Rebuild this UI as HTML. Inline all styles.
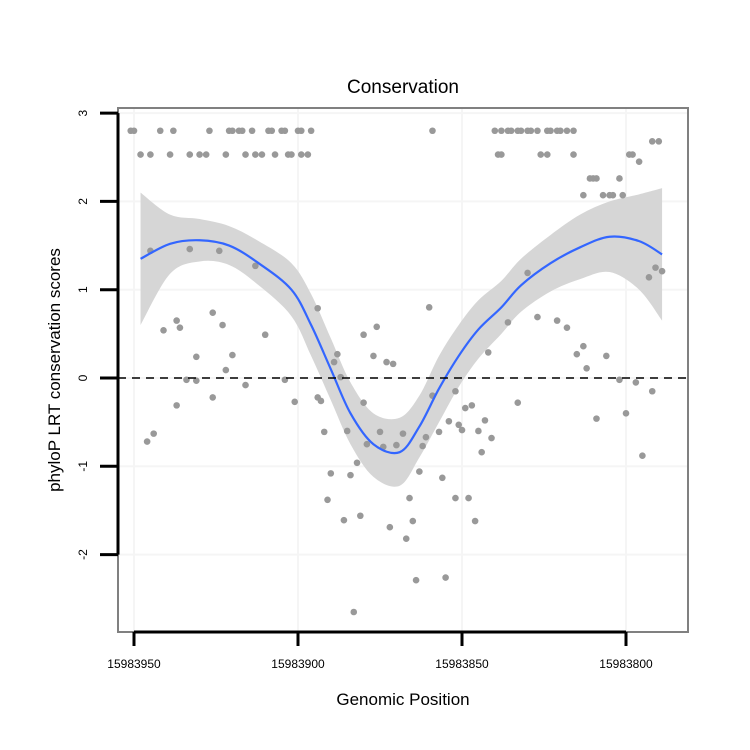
<!DOCTYPE html>
<html><head><meta charset="utf-8"><style>
html,body{margin:0;padding:0;background:#fff;}
svg{display:block;font-family:"Liberation Sans",sans-serif;}
</style></head><body>
<svg id="chart" width="750" height="750">
<text x="403" y="93" font-size="19" text-anchor="middle">Conservation</text>
<g id="grid"></g>
<g id="band"></g>
<g id="pts"></g>
<g id="fit"></g>
<line x1="118" x2="688" y1="378" y2="378" stroke="#000" stroke-width="1.5" stroke-dasharray="8,6"/>
<rect x="118" y="108" width="570" height="524" fill="none" stroke="#808080" stroke-width="2"/>
<g id="axes"></g>
<text x="403" y="705" font-size="17" text-anchor="middle">Genomic Position</text>
<text x="0" y="0" font-size="17" text-anchor="middle" transform="translate(60,370) rotate(-90)">phyloP LRT conservation scores</text>
</svg>
<script>
const xTicks=[15983950,15983900,15983850,15983800];
const xTickLabels=["15983950","15983900","15983850","15983800"];
const yTicks=[3,2,1,0,-1,-2];
const yTickLabels=["3","2","1","0","-1","-2"];
const ptPos=[15983948,15983945,15983939,15983933,15983930,15983928,15983922,15983916,15983913,15983911,15983907,15983903,15983902,15983899,15983897,
15983951,15983950,15983942,15983938,15983927,15983921,15983920,15983918,15983917,15983914,15983909,15983908,15983905,15983904,15983900,15983899,15983896,15983859,15983840,15983838,15983836,15983835,15983833,15983832,15983830,15983829,15983827,15983824,15983823,15983821,15983820,15983818,15983816,
15983839,15983838,15983826,15983824,15983816,
15983813,15983811,15983810,15983809,15983807,15983805,15983804,15983802,15983801,15983799,15983798,15983796,15983792,15983790,
15983946,15983944,15983945,15983941,15983937,15983937,15983936,15983934,15983933,15983931,15983931,15983926,15983926,15983924,15983923,15983922,15983920,15983916,15983913,15983910,15983904,15983901,15983894,15983894,15983893,15983892,15983891,15983890,15983889,15983888,15983887,15983886,15983885,15983884,15983883,15983882,15983881,15983880,15983880,15983879,15983877,15983876,15983875,15983874,15983873,15983872,15983871,15983870,15983868,15983867,15983866,15983865,15983864,15983863,15983862,15983861,15983860,15983859,15983857,15983856,15983855,15983854,15983852,15983852,15983851,15983850,15983849,15983848,15983847,15983846,15983845,15983844,15983843,15983842,15983841,15983836,15983833,15983830,15983827,15983821,15983818,15983815,15983813,15983812,15983809,15983806,15983802,15983800,15983797,15983795,15983793,15983792,15983791,15983789];
const ptScore=[2.53,2.53,2.53,2.53,2.53,2.53,2.53,2.53,2.53,2.53,2.53,2.53,2.53,2.53,2.53,
2.8,2.8,2.8,2.8,2.8,2.8,2.8,2.8,2.8,2.8,2.8,2.8,2.8,2.8,2.8,2.8,2.8,2.8,2.8,2.8,2.8,2.8,2.8,2.8,2.8,2.8,2.8,2.8,2.8,2.8,2.8,2.8,2.8,
2.53,2.53,2.53,2.53,2.53,
2.07,2.26,2.26,2.26,2.07,2.07,2.07,2.26,2.07,2.53,2.53,2.45,2.68,2.68,
-0.72,-0.63,1.44,0.54,-0.31,0.65,0.57,-0.02,1.46,-0.03,0.24,0.74,-0.22,1.44,0.60,0.09,0.26,-0.08,1.27,0.49,-0.02,-0.27,0.79,-0.22,-0.26,-0.61,-1.38,-1.08,0.18,0.27,0.01,-1.61,-0.60,-1.10,-2.65,-0.96,-1.56,-0.28,0.49,-0.75,0.25,0.58,-0.61,-0.78,0.18,-1.69,0.16,-0.76,-0.63,-1.82,-1.36,-1.62,-2.29,-1.06,-0.77,-0.67,0.80,-0.20,-0.61,-1.13,-2.26,-0.49,-1.36,-0.15,-0.53,-0.59,-0.34,-1.36,-0.31,-1.62,-0.60,-0.84,-0.48,0.29,-0.68,0.63,-0.28,1.19,0.69,0.65,0.57,0.27,0.36,0.11,-0.46,0.25,-0.02,-0.40,-0.05,-0.88,1.14,-0.15,1.25,1.21,0.59];
const fitPos=[15983948,15983939,15983930,15983921,15983912,15983902,15983896,15983890,15983884,15983877,15983869,15983863,15983857,15983851,15983845,15983838,15983832,15983823,15983814,15983805,15983796,15983789];
const fitVal=[1.35,1.52,1.56,1.50,1.30,1.00,0.60,0.10,-0.40,-0.75,-0.84,-0.55,-0.12,0.25,0.55,0.80,1.05,1.30,1.48,1.60,1.55,1.40];
const fitUpper=[2.10,1.85,1.80,1.72,1.55,1.30,0.95,0.45,-0.05,-0.40,-0.45,-0.20,0.25,0.60,0.88,1.10,1.35,1.62,1.85,2.00,2.08,2.15];
const fitLower=[0.60,1.18,1.32,1.28,1.05,0.70,0.25,-0.25,-0.75,-1.12,-1.22,-0.90,-0.50,-0.10,0.22,0.50,0.75,0.98,1.12,1.20,1.00,0.65];

const NS="http://www.w3.org/2000/svg";
function X(v){return 134+(15983950-v)*3.28;}
function Y(v){return 378-v*88.3;}
function mk(tag,attrs,parent){const e=document.createElementNS(NS,tag);for(const k in attrs)e.setAttribute(k,attrs[k]);parent.appendChild(e);return e;}
function spline(P,start){
  let s=start?'M'+P[0][0]+','+P[0][1]:'L'+P[0][0]+','+P[0][1];
  for(let i=0;i<P.length-1;i++){
    const p0=P[i-1]||P[i],p1=P[i],p2=P[i+1],p3=P[i+2]||P[i+1];
    s+='C'+(p1[0]+(p2[0]-p0[0])/6)+','+(p1[1]+(p2[1]-p0[1])/6)+' '+(p2[0]-(p3[0]-p1[0])/6)+','+(p2[1]-(p3[1]-p1[1])/6)+' '+p2[0]+','+p2[1];
  }
  return s;
}
const grid=document.getElementById('grid'),axes=document.getElementById('axes');
xTicks.forEach(function(t,i){
  const g=mk('line',{x1:X(t),x2:X(t),y1:108,y2:632,stroke:'#f5f5f5','stroke-width':2},grid);
  
  
  const tk=mk('line',{x1:X(t),x2:X(t),y1:632,y2:646,stroke:'#000','stroke-width':3},axes);
  
  
  const lb=mk('text',{x:X(t),y:668,'font-size':12,'text-anchor':'middle'},axes);
  lb.textContent=xTickLabels[i];
  
  
});
yTicks.forEach(function(t,i){
  const g=mk('line',{x1:118,x2:688,y1:Y(t),y2:Y(t),stroke:'#f5f5f5','stroke-width':2},grid);
  
  
  const tk=mk('line',{x1:100,x2:118,y1:Y(t),y2:Y(t),stroke:'#000','stroke-width':3},axes);
  
  
  const lb=mk('text',{x:0,y:0,'font-size':12,'text-anchor':'middle',transform:'translate(87,'+Y(t)+') rotate(-90)'},axes);
  lb.textContent=yTickLabels[i];
  
  
});
const xl=mk('line',{x1:X(xTicks[0]),x2:X(xTicks[3]),y1:632,y2:632,stroke:'#000','stroke-width':3},axes);


const yl=mk('line',{x1:118,x2:118,y1:Y(3),y2:Y(-2),stroke:'#000','stroke-width':3},axes);


const U=fitPos.map(function(p,i){return [X(p),Y(fitUpper[i])];});
const L=fitPos.map(function(p,i){return [X(p),Y(fitLower[i])];}).reverse();
const band=mk('path',{d:spline(U,true)+spline(L,false)+'Z',fill:'#d6d6d6'},document.getElementById('band'));


ptPos.forEach(function(p,i){
  const c=mk('circle',{cx:X(p),cy:Y(ptScore[i]),r:3.3,fill:'#999'},document.getElementById('pts'));
  
  
});
const P=fitPos.map(function(p,i){return [X(p),Y(fitVal[i])];});
const ln=mk('path',{d:spline(P,true),fill:'none',stroke:'#3366ff','stroke-width':2.2},document.getElementById('fit'));


</script>
</body></html>
